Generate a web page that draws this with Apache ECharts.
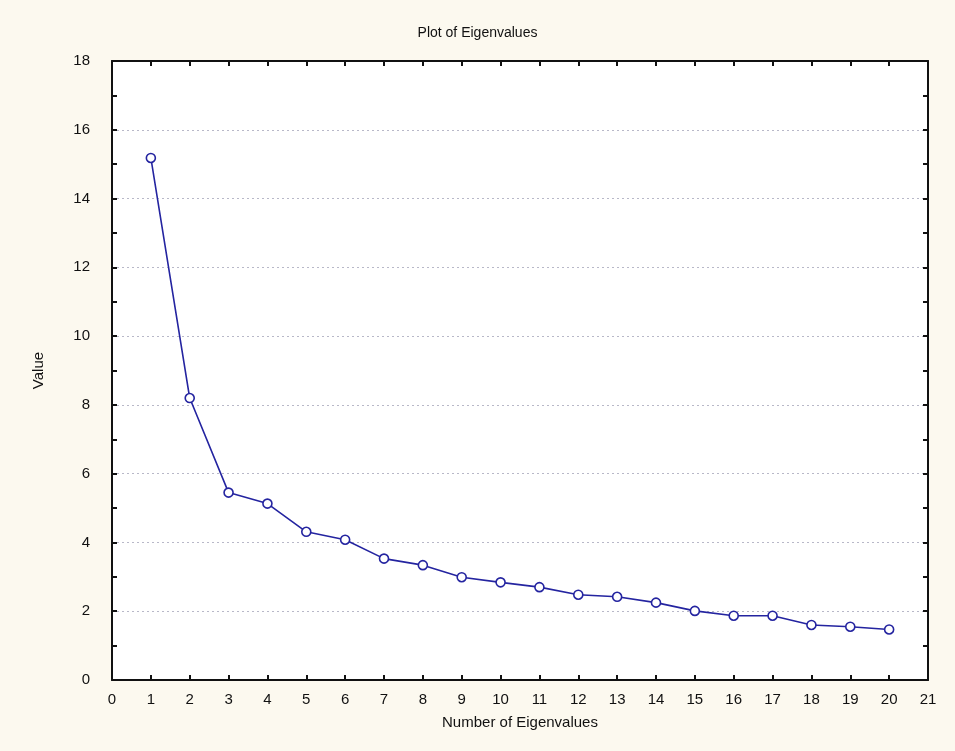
<!DOCTYPE html>
<html><head><meta charset="utf-8">
<script src="https://cdn.jsdelivr.net/npm/echarts@6/dist/echarts.min.js"></script>
<style>html,body{margin:0;padding:0;background:#fcf9ef;}#c{width:955px;height:751px;}</style>
</head><body><div id="c"></div>
<script>
var eigenNumbers = [1,2,3,4,5,6,7,8,9,10,11,12,13,14,15,16,17,18,19,20];
var eigenValues = [15.18,8.2,5.45,5.13,4.31,4.08,3.53,3.34,2.99,2.84,2.70,2.48,2.42,2.25,2.01,1.87,1.87,1.60,1.55,1.47];
var titleText = 'Plot of Eigenvalues';
var xName = 'Number of Eigenvalues';
var yName = 'Value';

var data = eigenNumbers.map(function(n,i){return [n, eigenValues[i]];});
var font = 'Liberation Sans, Arial, sans-serif';
var axLine = {show:true, onZero:false, lineStyle:{color:'#111', width:2}};
var tick = {show:true, inside:true, length:5, lineStyle:{color:'#111', width:2}};
var minor = {show:true, splitNumber:2, length:5, lineStyle:{color:'#111', width:2}};
var chart = echarts.init(document.getElementById('c'));
chart.setOption({
  backgroundColor:'#fcf9ef',
  animation:false,
  title:{text:titleText, left:'center', top:21, textStyle:{fontFamily:font, fontSize:14, fontWeight:'normal', color:'#111'}},
  grid:{left:112, right:27, top:61, bottom:71, show:true, backgroundColor:'#ffffff', borderWidth:0},
  xAxis:[{
    type:'value', min:0, max:21, interval:1, position:'bottom',
    name:xName, nameLocation:'middle', nameGap:35,
    nameTextStyle:{fontFamily:font, fontSize:15, color:'#111'},
    axisLine:axLine, axisTick:tick,
    axisLabel:{fontFamily:font, fontSize:15, color:'#111', margin:12},
    splitLine:{show:false}
  },{
    type:'value', min:0, max:21, interval:1, position:'top',
    axisLine:axLine, axisTick:tick,
    axisLabel:{show:false}, splitLine:{show:false}
  }],
  yAxis:[{
    type:'value', min:0, max:18, interval:2, position:'left',
    name:yName, nameLocation:'middle', nameGap:66, nameRotate:90,
    nameTextStyle:{fontFamily:font, fontSize:15, color:'#111'},
    axisLine:axLine, axisTick:tick, minorTick:minor,
    axisLabel:{fontFamily:font, fontSize:15, color:'#111', margin:22},
    splitLine:{show:true, lineStyle:{color:'#b8b8c8', type:[2,3], width:1}}
  },{
    type:'value', min:0, max:18, interval:2, position:'right',
    axisLine:axLine, axisTick:tick, minorTick:minor,
    axisLabel:{show:false}, splitLine:{show:false}
  }],
  series:[{
    type:'line', data:data, xAxisIndex:0, yAxisIndex:0,
    symbol:'circle', symbolSize:9,
    lineStyle:{color:'#2424a0', width:1.6},
    itemStyle:{color:'#ffffff', borderColor:'#2424a0', borderWidth:1.6}
  }]
});
</script></body></html>
